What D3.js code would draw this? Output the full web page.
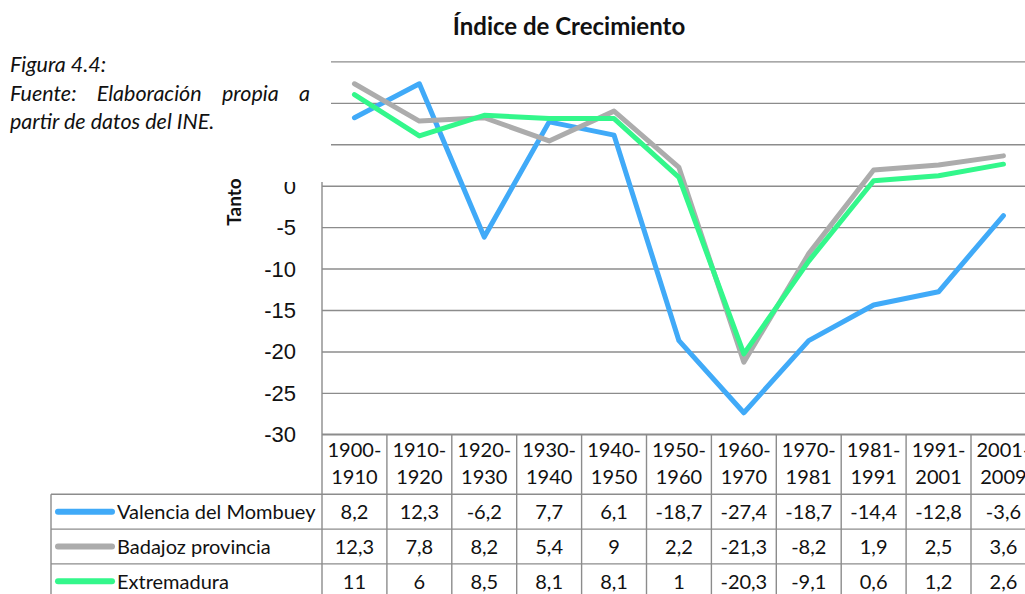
<!DOCTYPE html>
<html>
<head>
<meta charset="utf-8">
<script src="https://cdn.jsdelivr.net/npm/d3@7"></script>
<style>
  body { margin: 0; background: #fff; }
  svg { display: block; font-family: Lato, "Noto Sans", sans-serif; }
</style>
</head>
<body>
<svg width="1025" height="594"></svg>
<script>
var periods = ["1900-1910", "1910-1920", "1920-1930", "1930-1940", "1940-1950", "1950-1960",
  "1960-1970", "1970-1981", "1981-1991", "1991-2001", "2001-2009"];
var valencia = [8.2, 12.3, -6.2, 7.7, 6.1, -18.7, -27.4, -18.7, -14.4, -12.8, -3.6];
var badajoz = [12.3, 7.8, 8.2, 5.4, 9, 2.2, -21.3, -8.2, 1.9, 2.5, 3.6];
var extremadura = [11, 6, 8.5, 8.1, 8.1, 1, -20.3, -9.1, 0.6, 1.2, 2.6];
var seriesNames = ["Valencia del Mombuey", "Badajoz provincia", "Extremadura"];
var yTicks = [-30, -25, -20, -15, -10, -5, 0, 5, 10, 15];

main();

function main() {
  var svg = d3.select("svg");
  var colors = ["#40aaf8", "#acacac", "#33f78b"];
  var series = [valencia, badajoz, extremadura];

  var left = 322, colW = 64.9, top = 61.4, bottom = 434.3;
  var right = left + colW * periods.length;
  var gridColor = "#8c8c8c";

  var x = d3.scaleBand().domain(periods).range([left, right]).padding(0);
  var y = d3.scaleLinear().domain([-30, 15]).range([bottom, top]);

  // title
  svg.append("text")
    .attr("x", 569).attr("y", 35)
    .attr("text-anchor", "middle")
    .style("font-weight", "bold").style("font-size", "24px").attr("fill", "#111")
    .text("Índice de Crecimiento");

  // gridlines + y labels
  var yAxis = svg.append("g")
    .attr("transform", "translate(" + left + ",0)")
    .call(d3.axisLeft(y).tickValues(yTicks).tickSize(-(right - left)).tickPadding(26)
      .tickFormat(function(d) { return String(d); }));
  yAxis.select(".domain").remove();
  yAxis.selectAll(".tick line").attr("stroke", gridColor).attr("stroke-width", 1.4);
  yAxis.selectAll(".tick text")
    .attr("fill", "#111").style("font-size", "22px").attr("dy", "0.34em");
  // labels above zero sit under the note box
  yAxis.selectAll(".tick text").filter(function(d) { return d > 0; }).remove();

  // lines
  var line = d3.line()
    .x(function(d, i) { return x(periods[i]) + x.bandwidth() / 2; })
    .y(function(d) { return y(d); });

  series.forEach(function(s, k) {
    svg.append("path")
      .datum(s)
      .attr("d", line)
      .attr("fill", "none")
      .attr("stroke", colors[k])
      .attr("stroke-width", 5)
      .attr("stroke-linejoin", "round")
      .attr("stroke-linecap", "round");
  });

  // data table
  var headH = 60, rowH = 34.8, legLeft = 51;
  var table = svg.append("g");
  var rowTop = function(r) { return bottom + headH + r * rowH; };

  // horizontal rules
  table.append("line").attr("x1", left).attr("x2", right).attr("y1", bottom).attr("y2", bottom);
  for (var r = 0; r <= series.length; r++) {
    table.append("line").attr("x1", legLeft).attr("x2", right)
      .attr("y1", rowTop(r)).attr("y2", rowTop(r));
  }
  // vertical rules
  table.append("line").attr("x1", legLeft).attr("x2", legLeft)
    .attr("y1", rowTop(0)).attr("y2", rowTop(series.length));
  table.append("line").attr("x1", left).attr("x2", left)
    .attr("y1", top).attr("y2", rowTop(series.length));
  periods.forEach(function(p) {
    table.append("line").attr("x1", x(p) + x.bandwidth()).attr("x2", x(p) + x.bandwidth())
      .attr("y1", bottom).attr("y2", rowTop(series.length));
  });
  table.selectAll("line").attr("stroke", gridColor).attr("stroke-width", 1.4);

  // header labels
  periods.forEach(function(p) {
    var parts = p.split("-");
    var t = table.append("text")
      .attr("text-anchor", "middle")
      .style("font-size", "20px").attr("fill", "#111");
    t.append("tspan").attr("x", x(p) + x.bandwidth() / 2).attr("y", bottom + 23).text(parts[0] + "-");
    t.append("tspan").attr("x", x(p) + x.bandwidth() / 2).attr("y", bottom + 50).text(parts[1]);
  });

  // rows
  series.forEach(function(s, k) {
    var cy = rowTop(k) + rowH / 2;
    table.append("line")
      .attr("x1", 58).attr("x2", 112).attr("y1", cy).attr("y2", cy)
      .attr("stroke", colors[k]).attr("stroke-width", 6).attr("stroke-linecap", "round");
    table.append("text")
      .attr("x", 117).attr("y", cy).attr("dy", "0.36em")
      .style("font-size", "20px").attr("fill", "#111")
      .text(seriesNames[k]);
    s.forEach(function(v, i) {
      table.append("text")
        .attr("x", x(periods[i]) + x.bandwidth() / 2).attr("y", cy).attr("dy", "0.36em")
        .attr("text-anchor", "middle")
        .style("font-size", "20px").attr("fill", "#111")
        .text(String(v).replace(".", ","));
    });
  });

  // note box covering top of the axis
  svg.append("rect").attr("x", 0).attr("y", 0).attr("width", 331).attr("height", 182).attr("fill", "#fff");
  var note = svg.append("g").style("font-style", "italic").style("font-size", "21.5px").attr("fill", "#111");
  note.append("text").attr("x", 10).attr("y", 72).text("Figura 4.4:");
  var words = ["Fuente:", "Elaboración", "propia", "a"];
  var ws = words.map(function(w) {
    return note.append("text").attr("y", 100.5).text(w);
  });
  var widths = ws.map(function(t) { return t.node().getComputedTextLength(); });
  var gap = (310 - 10 - d3.sum(widths)) / (words.length - 1);
  var cx = 10;
  ws.forEach(function(t, i) { t.attr("x", cx); cx += widths[i] + gap; });
  note.append("text").attr("x", 10).attr("y", 128.5).text("partir de datos del INE.");

  // axis title
  svg.append("text")
    .attr("transform", "translate(241,202) rotate(-90)")
    .attr("text-anchor", "middle")
    .style("font-weight", "bold").style("font-size", "19px").attr("fill", "#111")
    .text("Tanto");
}
</script>
</body>
</html>
